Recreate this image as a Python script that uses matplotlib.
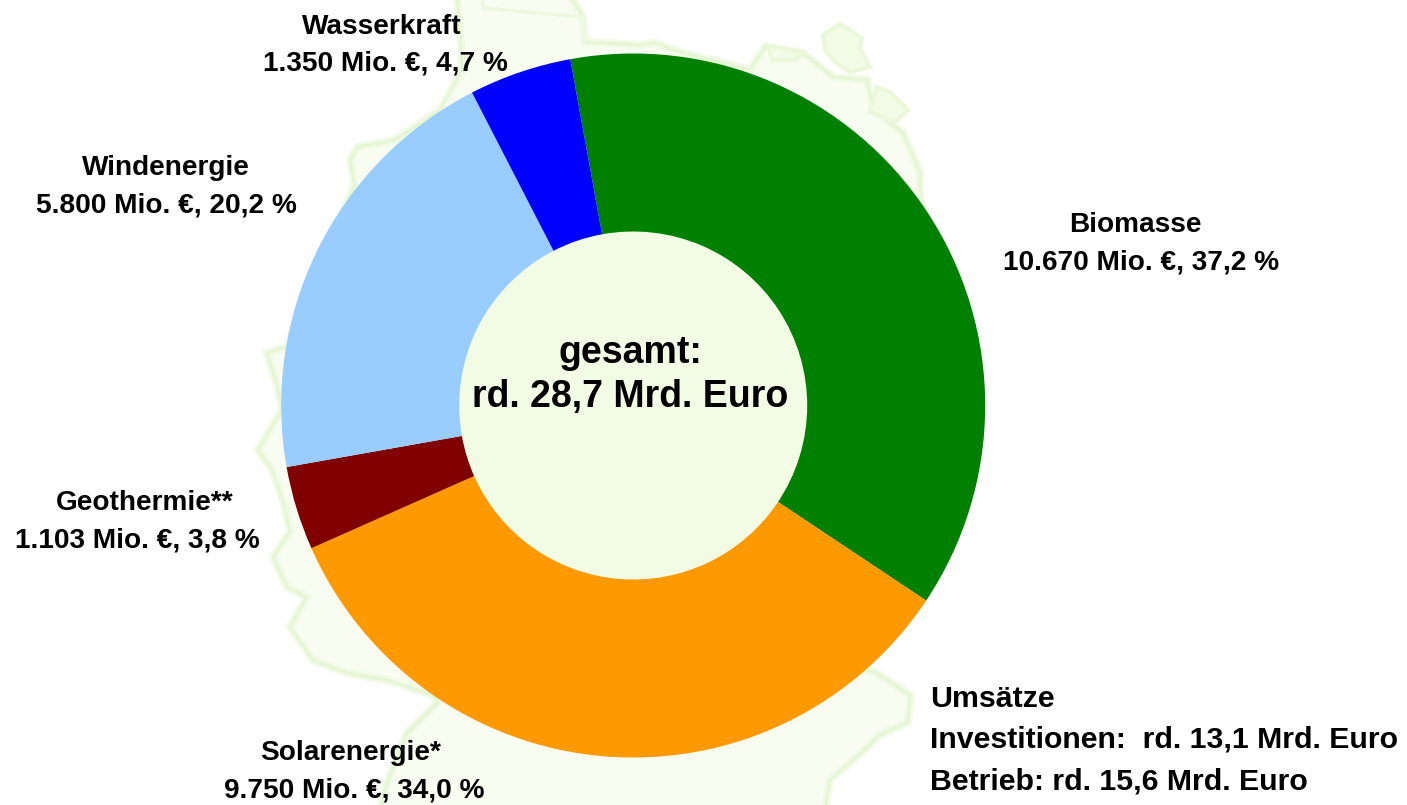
import matplotlib
matplotlib.use("Agg")
import matplotlib.pyplot as plt
from matplotlib.patches import Circle, Polygon

W, H = 1407, 805

categories = ["Biomasse", "Solarenergie*", "Geothermie**", "Windenergie", "Wasserkraft"]
values = [10670, 9750, 1103, 5800, 1350]
colors = ["#008000", "#FF9900", "#800000", "#99CCFF", "#0000FF"]
value_labels = ["10.670 Mio. €, 37,2 %", "9.750 Mio. €, 34,0 %", "1.103 Mio. €, 3,8 %",
                "5.800 Mio. €, 20,2 %", "1.350 Mio. €, 4,7 %"]
name_pos = [(1135, 231.5), (351, 759.5), (145, 509.5), (166, 174.5), (382, 33.5)]
value_pos = [(1141, 269.5), (354, 797.5), (137, 547.5), (166, 212.5), (385, 70.5)]
center_lines = ["gesamt:", "rd. 28,7 Mrd. Euro"]
note_lines = ["Umsätze", "Investitionen:  rd. 13,1 Mrd. Euro", "Betrieb: rd. 15,6 Mrd. Euro"]

# faint map of Germany behind the chart (pixel coordinates of the picture)
map_outline = [(457, -5), (460, 30), (462, 70), (440, 110), (395, 140), (358, 147), (350, 160),
               (355, 185), (320, 260), (287, 347), (267, 353), (277, 385), (282, 410), (258, 450),
               (272, 470), (283, 500), (290, 532), (273, 557),
               (287, 587), (307, 597), (290, 627), (313, 660), (347, 673), (387, 680), (427, 693),
               (440, 700), (407, 733), (387, 783), (380, 810), (825, 810), (830, 780), (862, 752),
               (880, 735), (908, 722), (910, 695), (875, 672), (860, 668), (900, 600), (960, 450),
               (950, 300), (920, 200), (920, 173), (903, 133), (873, 110), (867, 80), (833, 77),
               (803, 53), (765, 47), (750, 70), (680, 52), (655, 43), (640, 45), (585, 42),
               (583, 17), (570, -5)]
map_inner = [(482, -5), (483, 8), (583, 17), (585, 42)]
map_islands = [
    [(823, 35), (840, 24), (862, 38), (860, 48), (870, 67), (850, 72), (835, 62), (825, 50)],
    [(877, 87), (890, 92), (908, 110), (895, 122), (878, 115), (870, 112)],
    [(768, 46), (802, 52), (796, 60), (772, 60)],
]

plt.rcParams["font.family"] = ["Liberation Sans", "DejaVu Sans"]
fig = plt.figure(figsize=(W / 100, H / 100), dpi=100, facecolor="white")
ax = fig.add_axes([0, 0, 1, 1])


def up(p):
    return (p[0], H - p[1])


ax.add_patch(Polygon([up(p) for p in map_outline], closed=True, facecolor="#F8FCF1",
                     edgecolor="#F1FAE6", lw=6, zorder=0))
ax.add_patch(Polygon([up(p) for p in map_outline], closed=True, facecolor="none",
                     edgecolor="#E6F6D3", lw=2.2, zorder=0.1))
ax.plot(*zip(*[up(p) for p in map_inner]), color="#EDF8DF", lw=2.5, zorder=0.1)
for isl in map_islands:
    ax.add_patch(Polygon([up(p) for p in isl], closed=True, facecolor="#F2FBE5",
                         edgecolor="#EAF8D9", lw=3, zorder=0.1))

cx, cy = 633.2, 405.5
radius, hole = 352, 174
ax.pie(values, colors=colors, startangle=100.3, counterclock=False, center=up((cx, cy)),
       radius=radius, wedgeprops=dict(width=radius - hole, linewidth=0, zorder=2), frame=False)
ax.add_patch(Circle(up((cx, cy)), hole, facecolor="#F2FBE3", edgecolor="none", zorder=1))

ax.set_xlim(0, W)
ax.set_ylim(0, H)
ax.set_aspect("equal")
ax.axis("off")

FS = 20.2
for name, val, np_, vp in zip(categories, value_labels, name_pos, value_pos):
    ax.text(*up(np_), name, ha="center", va="baseline", fontsize=FS, fontweight="bold", color="black", zorder=5)
    ax.text(*up(vp), val, ha="center", va="baseline", fontsize=FS, fontweight="bold", color="black", zorder=5)

for line, y in zip(center_lines, [363, 407]):
    ax.text(*up((630.5, y)), line, ha="center", va="baseline", fontsize=27, fontweight="bold", zorder=5)
for line, y in zip(note_lines, [707, 748, 789]):
    ax.text(*up((930, y)), line, ha="left", va="baseline", fontsize=21.8, fontweight="bold", zorder=5)

fig.savefig("out.png", dpi=100)
